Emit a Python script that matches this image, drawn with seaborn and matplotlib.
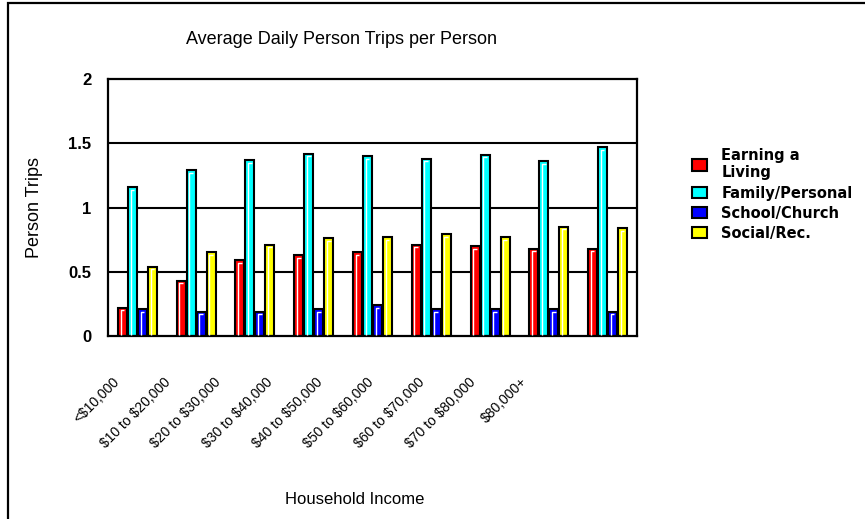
import numpy as np
import pandas as pd
import matplotlib
matplotlib.use("Agg")
import matplotlib.pyplot as plt
import seaborn as sns
from matplotlib.patches import Rectangle

# data
incomes = ["<$10,000", "$10 to $20,000", "$20 to $30,000", "$30 to $40,000",
           "$40 to $50,000", "$50 to $60,000", "$60 to $70,000",
           "$70 to $80,000", "$80,000+"]
purposes = ["Earning a\nLiving", "Family/Personal", "School/Church", "Social/Rec."]
earning = [0.22, 0.43, 0.59, 0.63, 0.65, 0.71, 0.70, 0.68, 0.68]
family = [1.16, 1.29, 1.37, 1.42, 1.40, 1.38, 1.41, 1.36, 1.47]
school = [0.21, 0.19, 0.19, 0.21, 0.24, 0.21, 0.21, 0.21, 0.19]
social = [0.54, 0.65, 0.71, 0.76, 0.77, 0.79, 0.77, 0.85, 0.84]
colors = ["#FF0000", "#00FFFF", "#0000FF", "#FFFF00"]

df = pd.DataFrame({
    "income": incomes * 4,
    "purpose": np.repeat(purposes, len(incomes)),
    "trips": earning + family + school + social,
})

sns.set_style("white")
plt.rcParams["font.family"] = ["Liberation Sans", "DejaVu Sans"]
plt.rcParams["text.color"] = "black"
plt.rcParams["xtick.color"] = "black"
plt.rcParams["ytick.color"] = "black"
plt.rcParams["axes.labelcolor"] = "black"

fig = plt.figure(figsize=(8.65, 5.19), dpi=100)
ax = fig.add_axes([108 / 865, 1 - 336 / 519, 529 / 865, 257 / 519])

sns.barplot(data=df, x="income", y="trips", hue="purpose", order=incomes,
            hue_order=purposes, palette=colors, width=0.68, gap=0.1,
            edgecolor="black", linewidth=1.5, saturation=1, ax=ax, legend=True)

# white highlight just inside the top and left edge of each bar
for p in ax.patches:
    x0, y0 = p.get_x(), p.get_y()
    w, h = p.get_width(), p.get_height()
    if h <= 0:
        continue
    dx, dy = 0.045, 0.02
    ax.plot([x0 + dx, x0 + dx, x0 + w - dx], [y0 + 0.01, y0 + h - dy, y0 + h - dy],
            color="white", lw=1, solid_capstyle="butt", zorder=3)

ax.set_ylim(0, 2)
ax.set_xlim(-0.5, len(incomes) - 0.5)
ax.set_yticks([0, 0.5, 1, 1.5, 2])
ax.set_yticklabels(["0", "0.5", "1", "1.5", "2"], fontsize=12, fontweight="bold")
for y in [0.5, 1, 1.5]:
    ax.axhline(y, color="black", lw=1.5, zorder=0)
for s in ax.spines.values():
    s.set_color("black")
    s.set_linewidth(1.6)
ax.tick_params(axis="both", length=0)
ax.tick_params(axis="y", pad=12)

# slanted category labels, packed a little tighter than the bars as in the original
label_pos = -0.43 + 0.867 * np.arange(len(incomes))
ax.set_xticks(label_pos)
ax.set_xticklabels([s.replace("$", r"\$") for s in incomes], rotation=45,
                   ha="right", va="top", rotation_mode="anchor", fontsize=10)
ax.tick_params(axis="x", pad=28)
ax.set_xlabel("")
ax.set_ylabel("Person Trips", fontsize=13, labelpad=18)

fig.text(342 / 865, 1 - 40 / 519, "Average Daily Person Trips per Person",
         ha="center", va="center", fontsize=13)
fig.text(355 / 865, 1 - 499 / 519, "Household Income",
         ha="center", va="center", fontsize=12)

handles, labels = ax.get_legend_handles_labels()
ax.get_legend().remove()
fig.legend(handles, labels, loc="upper left",
           bbox_to_anchor=(692 / 865, 1 - 148 / 519), frameon=False,
           prop={"family": "DejaVu Sans", "weight": "bold", "size": 10.5},
           handlelength=1.0, handleheight=0.85, handletextpad=1.0,
           labelspacing=0.35, borderpad=0, borderaxespad=0)

# outer frame (open on the right and bottom like the cropped original)
fig.patches.append(Rectangle((8 / 865, -0.1), 1.2, 1 - 3 / 519 + 0.1,
                             transform=fig.transFigure, fill=False,
                             edgecolor="black", lw=1.6))

fig.savefig("out.png", dpi=100)
